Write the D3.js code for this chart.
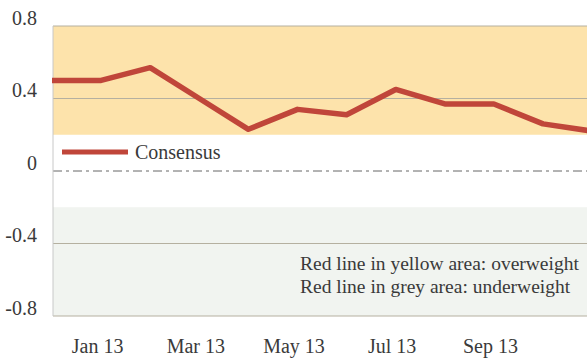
<!DOCTYPE html>
<html>
<head>
<meta charset="utf-8">
<script src="https://cdn.jsdelivr.net/npm/d3@7"></script>
<style>
  body { margin: 0; background: #fff; }
</style>
</head>
<body>
<script>
// #### data ####
var months = ["Dec 12", "Jan 13", "Feb 13", "Mar 13", "Apr 13", "May 13",
              "Jun 13", "Jul 13", "Aug 13", "Sep 13", "Oct 13", "Nov 13"];
var consensus = [0.50, 0.50, 0.57, 0.40, 0.23, 0.34, 0.31, 0.45, 0.37, 0.37, 0.26, 0.22];
var xLabels = ["Jan 13", "Mar 13", "May 13", "Jul 13", "Sep 13"];
var yTicks = [0.8, 0.4, 0, -0.4, -0.8];
var overweightBand = [0.2, 0.8];
var underweightBand = [-0.8, -0.2];
var notes = ["Red line in yellow area: overweight", "Red line in grey area: underweight"];

var width_outer = 587;
var height_outer = 358;
var serif = "'Liberation Serif', 'Times New Roman', serif";

var svg = d3.select("body").append("svg")
  .attr("width", width_outer)
  .attr("height", height_outer);

var x = d3.scalePoint()
  .domain(months)
  .range([52, 52 + 11 * 49.1]);

var y = d3.scaleLinear()
  .domain([-0.8, 0.8])
  .range([316, 26]);

var left = 53, right = width_outer;

// bands
svg.append("rect")
  .attr("x", left).attr("width", right - left)
  .attr("y", y(overweightBand[1]))
  .attr("height", y(overweightBand[0]) - y(overweightBand[1]))
  .style("fill", "#fde3ab");

svg.append("rect")
  .attr("x", left).attr("width", right - left)
  .attr("y", y(underweightBand[1]))
  .attr("height", y(underweightBand[0]) - y(underweightBand[1]))
  .style("fill", "#f1f4f0");

// gridlines
svg.selectAll(".grid")
  .data(yTicks)
  .enter().append("line")
  .attr("class", "grid")
  .attr("x1", left).attr("x2", right)
  .attr("y1", function(d) { return y(d); })
  .attr("y2", function(d) { return y(d); })
  .style("stroke", function(d) { return d === 0 ? "#666" : "#b5b0a0"; })
  .style("stroke-width", 1)
  .style("stroke-dasharray", function(d) { return d === 0 ? "9,4,3,4" : null; });

// left axis line
svg.append("line")
  .attr("x1", left).attr("x2", left)
  .attr("y1", y(0.8)).attr("y2", y(-0.8))
  .style("stroke", "#c8c8c8");

// y labels
var yAxis = d3.axisLeft(y)
  .tickValues(yTicks)
  .tickSize(0)
  .tickPadding(0)
  .tickFormat(function(d) { return d === 0 ? "0" : d.toFixed(1); });

svg.append("g")
  .attr("transform", "translate(37,0)")
  .call(yAxis)
  .attr("font-family", serif)
  .attr("font-size", 20)
  .call(function(g) { g.select(".domain").remove(); })
  .selectAll("text")
  .attr("dy", "-0.1em")
  .style("fill", "#3a3a3a");

// x labels
var xAxis = d3.axisBottom(x)
  .tickValues(xLabels)
  .tickSize(0)
  .tickPadding(0);

svg.append("g")
  .attr("transform", "translate(-4,339)")
  .call(xAxis)
  .attr("font-family", serif)
  .attr("font-size", 20)
  .call(function(g) { g.select(".domain").remove(); })
  .selectAll("text")
  .style("fill", "#3a3a3a");

// consensus line
var line = d3.line()
  .x(function(d, i) { return x(months[i]); })
  .y(function(d) { return y(d); });

svg.append("path")
  .datum(consensus)
  .attr("d", line)
  .style("fill", "none")
  .style("stroke", "#c0463a")
  .style("stroke-width", 5.5)
  .style("stroke-linejoin", "round");

// legend
svg.append("line")
  .attr("x1", 62).attr("x2", 128)
  .attr("y1", 152).attr("y2", 152)
  .style("stroke", "#c0463a")
  .style("stroke-width", 5);

svg.append("text")
  .attr("x", 135).attr("y", 159)
  .attr("font-family", serif)
  .attr("font-size", 20)
  .style("fill", "#3a3a3a")
  .text("Consensus");

// notes
svg.selectAll(".note")
  .data(notes)
  .enter().append("text")
  .attr("class", "note")
  .attr("x", 300)
  .attr("y", function(d, i) { return 270 + i * 23; })
  .attr("font-family", serif)
  .attr("font-size", 19.5)
  .style("fill", "#3a3a3a")
  .text(function(d) { return d; });
</script>
</body>
</html>
